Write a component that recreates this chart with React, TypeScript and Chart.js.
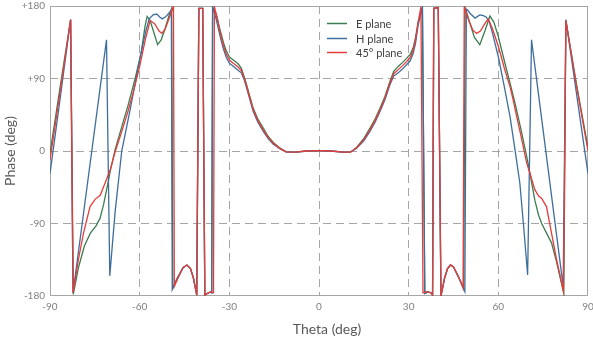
import React, { useEffect, useRef } from "react";
import { Chart, registerables } from "chart.js";

Chart.register(...registerables);

// ---- data ----
const seriesLabels = ["E plane", "H plane", "45° plane"];
const seriesColors = ["#3b7d50", "#3f6e9e", "#e63c3c"];
const xTickValues = [-90, -60, -30, 0, 30, 60, 90];
const yTickValues = [-180, -90, 0, 90, 180];
const xTitle = "Theta (deg)";
const yTitle = "Phase (deg)";

// [theta (deg), phase (deg)]
const ePlane: [number, number][] = [
  [-90, -3], [-86.5, 82], [-83.1, 163], [-82.2, -178], [-80.5, -145], [-78.5, -118], [-76.5, -102],
  [-74.6, -93], [-73.3, -84], [-72.1, -67], [-70.5, -38], [-69.9, -26], [-68.2, 2], [-66, 30],
  [-64, 55], [-61.5, 90], [-59.5, 122], [-58.2, 155], [-57.5, 167], [-56.5, 162], [-55, 144],
  [-54, 132], [-52.8, 138], [-51.5, 152], [-50.2, 168], [-49.3, 177], [-48.9, -170], [-47, -156],
  [-45.5, -145], [-44.2, -141.5], [-43, -146], [-42, -158], [-40.9, -179], [-40.2, 177], [-38.9, 177],
  [-38.2, -179], [-37, -176], [-36.2, -175], [-35.9, -176], [-35.6, 179], [-34.5, 170], [-33, 149],
  [-32, 135], [-31, 124], [-30, 117], [-29, 114], [-28, 111], [-27, 108], [-26, 103], [-25, 92],
  [-24.2, 82], [-23, 66], [-22, 53], [-20.5, 40], [-18.6, 28], [-17, 18], [-15.3, 10.5], [-13, 3.5],
  [-11, -1], [-8, -1.5], [-4, 0], [0, 0.5], [4, 0], [8, -1.5], [10.5, -1.5], [12.6, 4.5], [15, 15.5],
  [17, 28], [18.8, 40], [20.4, 53], [22, 67], [23.7, 86], [25, 99], [26.5, 105], [28, 110], [29.3, 115],
  [30.5, 120], [31.5, 128], [32.3, 141], [33.2, 161], [34.6, 179], [35.4, -177], [36.5, -175],
  [37.5, -176], [38.0, -179], [38.4, 177], [39.9, 178], [40.8, -180], [42, -158], [43, -146],
  [44, -141.5], [45, -144], [46.5, -155], [47.5, -163], [48.4, -171], [48.9, 178], [50.3, 161],
  [52, 141], [53.8, 132], [55.5, 149], [57.2, 167.5], [58.5, 160], [60, 142], [62, 112], [64, 83],
  [65.6, 59], [67.5, 28], [69.5, -7], [70.6, -28], [72.2, -61], [73.5, -80], [74.5, -90], [76, -101],
  [77.8, -114], [79.5, -138], [81.9, -177], [82.6, 162], [86, 86], [90, 4],
];

const hPlane: [number, number][] = [
  [-90, -28], [-86.5, 68], [-83.1, 163], [-82.3, -176], [-71.1, 138], [-70, -155], [-68.2, -75],
  [-66, 0], [-63.2, 51], [-60, 113], [-58, 148], [-56.8, 164], [-55.5, 169], [-54.3, 170],
  [-53.2, 166], [-52.4, 164], [-51.2, 167], [-50, 172], [-49.4, 175], [-49.1, -172], [-47.5, -158],
  [-45.5, -145], [-44.2, -141.5], [-43, -146], [-42, -158], [-40.9, -179], [-40.2, 177], [-38.9, 177],
  [-38.2, -179], [-37, -176], [-36.2, -175], [-35.9, -176], [-35.6, 178], [-34.5, 165], [-33, 141],
  [-32, 127], [-31, 116], [-30, 109], [-29, 106], [-28, 103], [-27, 100], [-26, 97], [-25, 88],
  [-24.2, 78], [-23, 62], [-22, 49], [-20.5, 36], [-18.6, 24], [-17, 15.5], [-15.3, 8.5], [-13, 2.5],
  [-11, -1], [-8, -1.5], [-4, 0], [0, 0.5], [4, 0], [8, -1.5], [10.5, -1.5], [12.6, 3.5], [15, 12.5],
  [17, 24], [18.8, 36], [20.4, 49], [22, 63], [23.7, 82], [25, 93], [26.5, 97], [28, 102], [29.3, 107],
  [30.5, 112], [31.5, 121], [32.3, 134], [33.2, 157], [34.6, 178], [35.4, -177], [36.5, -175],
  [37.5, -176], [38.0, -179], [38.4, 177], [39.9, 178], [40.8, -180], [42, -158], [43, -146],
  [44, -141.5], [45, -144], [46.5, -155], [47.8, -166], [48.8, -174.6], [49.3, 176], [49.7, 175],
  [50.5, 171], [52.2, 165], [53.8, 169], [55, 168], [56, 166], [57, 160], [58, 147], [60, 117],
  [62, 80], [63.9, 43], [65.6, 1], [67.2, -40], [68.5, -95], [69.8, -154], [71.1, 138], [81.7, -168],
  [82.6, 163], [90, -28],
];

const plane45: [number, number][] = [
  [-90, -11], [-86.5, 76], [-83.1, 163], [-82.3, -176], [-80.5, -135], [-78.8, -102], [-76.6, -69],
  [-74.9, -60], [-73.2, -55], [-71.6, -40], [-69.9, -24], [-68.2, -1], [-66, 24], [-64, 48], [-62, 75],
  [-60, 105], [-58, 140], [-56.5, 162], [-55, 158], [-53.5, 149], [-52.6, 146], [-51.5, 151],
  [-50, 166], [-48.7, 180], [-48.4, -168], [-47, -156], [-45.5, -145], [-44.2, -141.5], [-43, -146],
  [-42, -158], [-40.9, -179], [-40.2, 177], [-38.9, 177], [-38.2, -179], [-37, -176], [-36, -174.6],
  [-35.3, -176], [-35, 179], [-34, 165], [-33, 145], [-32, 131], [-31, 120], [-30, 113], [-29, 110],
  [-28, 107], [-27, 104], [-26, 100], [-25, 90], [-24.2, 80], [-23, 64], [-22, 51], [-20.5, 38],
  [-18.6, 26], [-17, 17], [-15.3, 9.5], [-13, 3], [-11, -1], [-8, -1.5], [-4, 0], [0, 0.5], [4, 0],
  [8, -1.5], [10.5, -1.5], [12.6, 4], [15, 14], [17, 26], [18.8, 38], [20.4, 51], [22, 65], [23.7, 84],
  [25, 96], [26.5, 101], [28, 106], [29.3, 111], [30.5, 116], [31.5, 125], [32.3, 138], [33.2, 160],
  [34.1, 179], [34.8, -176], [36, -174.6], [37.5, -176], [38.0, -179], [38.4, 177], [39.9, 178],
  [40.8, -180], [42, -158], [43, -146], [44, -141.5], [45, -144], [46.5, -155], [47.5, -163],
  [48.2, -170], [48.6, 179], [50, 163], [51.5, 150], [52.7, 146], [54, 149], [55.5, 158], [56.6, 164],
  [58, 152], [60, 130], [62, 103], [63.9, 80], [65, 63], [65.6, 52], [67.5, 20], [69.5, -15],
  [70.6, -28], [72.2, -48], [73.5, -56], [74.5, -59], [76.1, -69], [77.8, -102], [79.5, -135],
  [81.8, -174], [82.6, 162], [86, 84], [90, 0],
];

const seriesData = [ePlane, hPlane, plane45];
const drawOrder = [2, 1, 0];

const FONT = "Lato, 'Open Sans', sans-serif";

const decorPlugin = {
  id: "decor",
  beforeDatasetsDraw(chart: any) {
    const { ctx, chartArea } = chart;
    const l = Math.round(chartArea.left) + 0.5;
    const t = Math.round(chartArea.top) + 0.5;
    const r = Math.round(chartArea.right) - 0.5;
    const b = Math.round(chartArea.bottom) - 0.5;
    ctx.save();
    ctx.strokeStyle = "#a6a6a6";
    ctx.lineWidth = 1;
    ctx.setLineDash([]);
    ctx.strokeRect(l, t, r - l, b - t);
    ctx.restore();
  },
  afterDraw(chart: any) {
    const { ctx } = chart;
    ctx.save();
    // legend
    const lx = 327;
    const ly = [23, 38, 52];
    ctx.font = `11px ${FONT}`;
    ctx.textBaseline = "middle";
    ctx.textAlign = "left";
    chart.data.datasets.forEach((ds: any, i: number) => {
      ctx.strokeStyle = ds.borderColor;
      ctx.lineWidth = 1.5;
      ctx.beginPath();
      ctx.moveTo(lx, ly[i] + 0.5);
      ctx.lineTo(lx + 20, ly[i] + 0.5);
      ctx.stroke();
      ctx.fillStyle = "#404040";
      ctx.fillText(ds.label, lx + 29, ly[i] + 1);
    });
    // axis titles
    ctx.fillStyle = "#595959";
    ctx.font = `14px ${FONT}`;
    ctx.textAlign = "center";
    ctx.textBaseline = "middle";
    ctx.fillText(xTitle, 327, 329);
    ctx.translate(10, 151);
    ctx.rotate(-Math.PI / 2);
    ctx.fillText(yTitle, 0, 0);
    ctx.restore();
  },
};

const gridColor = (edgeValues: number[]) => (c: any) =>
  c.tick && edgeValues.includes(c.tick.value) ? "rgba(0,0,0,0)" : "#a6a6a6";

export default function App() {
  const ref = useRef<HTMLCanvasElement>(null);
  useEffect(() => {
    document.body.style.margin = "0";
    document.body.style.overflow = "hidden";
    const chart = new Chart(ref.current as HTMLCanvasElement, {
      type: "line",
      data: {
        datasets: seriesData.map((d, i) => ({
          label: seriesLabels[i],
          data: d.map(([x, y]) => ({ x, y })),
          borderColor: seriesColors[i],
          backgroundColor: seriesColors[i],
          borderWidth: 1.3,
          pointRadius: 0,
          tension: 0,
          fill: false,
          order: drawOrder[i],
        })),
      },
      options: {
        animation: false,
        responsive: false,
        devicePixelRatio: 1,
        layout: { padding: { left: 0, right: 5, top: 6, bottom: 0 } },
        plugins: { legend: { display: false }, tooltip: { enabled: false } },
        scales: {
          x: {
            type: "linear",
            min: -90,
            max: 90,
            afterBuildTicks: (s: any) => {
              s.ticks = xTickValues.map((v) => ({ value: v }));
            },
            afterFit: (s: any) => {
              s.height = 43;
              s.paddingLeft = 0;
              s.paddingRight = 0;
            },
            ticks: {
              font: { family: FONT, size: 10 },
              color: "#7f7f7f",
              padding: 5,
              maxRotation: 0,
              autoSkip: false,
              callback: (v: any) => String(v),
            },
            grid: { color: gridColor([-90, 90]), lineWidth: 1, drawTicks: false },
            border: { display: false, dash: [8, 5] },
          },
          y: {
            type: "linear",
            min: -180,
            max: 180,
            afterBuildTicks: (s: any) => {
              s.ticks = yTickValues.map((v) => ({ value: v }));
            },
            afterFit: (s: any) => {
              s.width = 50;
              s.paddingTop = 0;
              s.paddingBottom = 0;
            },
            ticks: {
              font: { family: FONT, size: 10 },
              color: "#7f7f7f",
              padding: 5,
              autoSkip: false,
              callback: (v: any) => (v > 0 ? "+" + v : String(v)),
            },
            grid: { color: gridColor([-180, 180]), lineWidth: 1, drawTicks: false },
            border: { display: false, dash: [8, 5] },
          },
        },
      },
      plugins: [decorPlugin],
    } as any);
    return () => chart.destroy();
  }, []);
  return (
    <div style={{ width: 593, height: 339 }}>
      <canvas ref={ref} width={593} height={339} style={{ display: "block" }} />
    </div>
  );
}
